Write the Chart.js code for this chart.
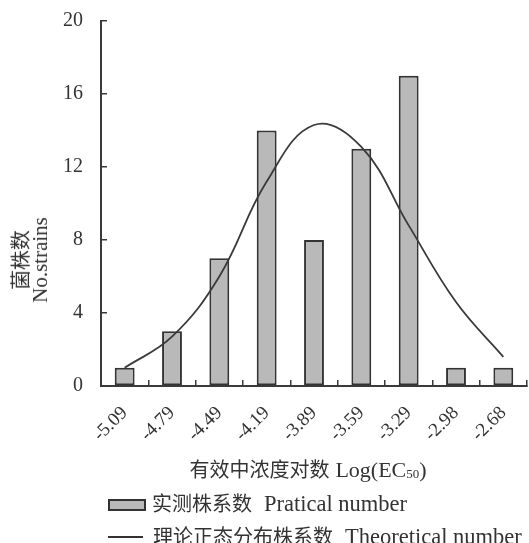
<!DOCTYPE html>
<html>
<head>
<meta charset="utf-8">
<script src="https://cdn.jsdelivr.net/npm/chart.js@4.4.0/dist/chart.umd.min.js"></script>
<style>
    body { margin: 0; background: #fff; }
    #wrap {
        position: relative;
        width: 529px;
        height: 543px;
        overflow: hidden;
        font-family: "Liberation Serif", "Noto Sans CJK SC", serif;
        color: #333;
    }
    #chart { position: absolute; left: 0; top: 0; }
    .label { position: absolute; white-space: nowrap; font-size: 20px; line-height: 20px; }
    .en { font-size: 22.5px; margin-left: 12px; }
    #yTitle {
        left: 31px;
        top: 260px;
        text-align: center;
        line-height: 19px;
        transform: translate(-50%, -50%) rotate(-90deg);
    }
    #yTitle .en { font-size: 21px; margin-left: 0; }
    #xTitle { left: 308px; top: 460px; transform: translateX(-50%); }
    #xTitle .en { font-size: 22px; margin-left: 6px; }
    #xTitle sub { font-size: 13px; vertical-align: -1px; line-height: 0; }
    .swatch { position: absolute; box-sizing: border-box; }
    #barSwatch { left: 108px; top: 499px; width: 38px; height: 12px; background: #b9b9b9; border: 2px solid #333; }
    #lineSwatch { left: 108px; top: 536px; width: 35px; height: 2px; background: #333; }
    #legendBar { left: 152px; top: 494px; }
    #legendLine { left: 153px; top: 527px; }
</style>
</head>
<body>
<div id="wrap">
    <canvas id="chart" width="529" height="543"></canvas>
    <div class="label" id="yTitle">菌株数<br><span class="en">No.strains</span></div>
    <div class="label" id="xTitle">有效中浓度对数<span class="en">Log(EC<sub>50</sub>)</span></div>
    <div class="swatch" id="barSwatch"></div>
    <div class="label" id="legendBar">实测株系数<span class="en">Pratical number</span></div>
    <div class="swatch" id="lineSwatch"></div>
    <div class="label" id="legendLine">理论正态分布株系数<span class="en">Theoretical number</span></div>
</div>
<script>
const categories = ["-5.09", "-4.79", "-4.49", "-4.19", "-3.89", "-3.59", "-3.29", "-2.98", "-2.68"];
const praticalCounts = [1, 3, 7, 14, 8, 13, 17, 1, 1];
const theoreticalCounts = [1.0, 2.7, 6.0, 11.2, 14.3, 13.1, 8.8, 4.6, 1.6];
const yTicks = [0, 4, 8, 12, 16, 20];

const axisColor = "#3a3a3a";
const textColor = "#333";

const ctx = document.getElementById("chart").getContext("2d");

const chart = new Chart(ctx, {
    data: {
        labels: categories,
        datasets: [
            {
                type: "line",
                label: "Theoretical number",
                data: theoreticalCounts,
                borderColor: "#3a3a3a",
                borderWidth: 1.8,
                pointRadius: 0,
                tension: 0.4,
                fill: false,
                order: 0
            },
            {
                type: "bar",
                label: "Pratical number",
                data: praticalCounts,
                backgroundColor: "#b9b9b9",
                borderColor: "#333",
                borderWidth: 2,
                borderSkipped: false,
                categoryPercentage: 1,
                barPercentage: 0.42,
                order: 1
            }
        ]
    },
    options: {
        responsive: false,
        animation: false,
        layout: {
            padding: { left: 0, top: 21, right: 2, bottom: 0 }
        },
        plugins: {
            legend: { display: false },
            tooltip: { enabled: false }
        },
        scales: {
            x: {
                grid: {
                    display: true,
                    drawOnChartArea: false,
                    drawTicks: true,
                    tickLength: -6,
                    color: axisColor,
                    lineWidth: 1.5
                },
                border: { display: true, color: axisColor, width: 2 },
                ticks: {
                    autoSkip: false,
                    minRotation: 45,
                    maxRotation: 45,
                    padding: 22,
                    color: textColor,
                    font: { family: "'Liberation Serif', serif", size: 19 }
                },
                afterFit: function (scale) {
                    scale.height = 157;
                    // labels are rotated and right-aligned, no extra side room needed
                    scale.paddingLeft = 0;
                    scale.paddingRight = 0;
                }
            },
            y: {
                min: 0,
                max: 20,
                afterBuildTicks: function (scale) {
                    scale.ticks = yTicks.map(v => ({ value: v }));
                },
                grid: {
                    display: true,
                    drawOnChartArea: false,
                    drawTicks: true,
                    tickLength: -6,
                    color: axisColor,
                    lineWidth: 1.5
                },
                border: { display: true, color: axisColor, width: 2 },
                ticks: {
                    padding: 24,
                    color: textColor,
                    font: { family: "'Liberation Serif', serif", size: 20 }
                },
                afterFit: function (scale) {
                    scale.width = 101;
                    scale.paddingTop = 0;
                    scale.paddingBottom = 0;
                }
            }
        }
    }
});
</script>
</body>
</html>
